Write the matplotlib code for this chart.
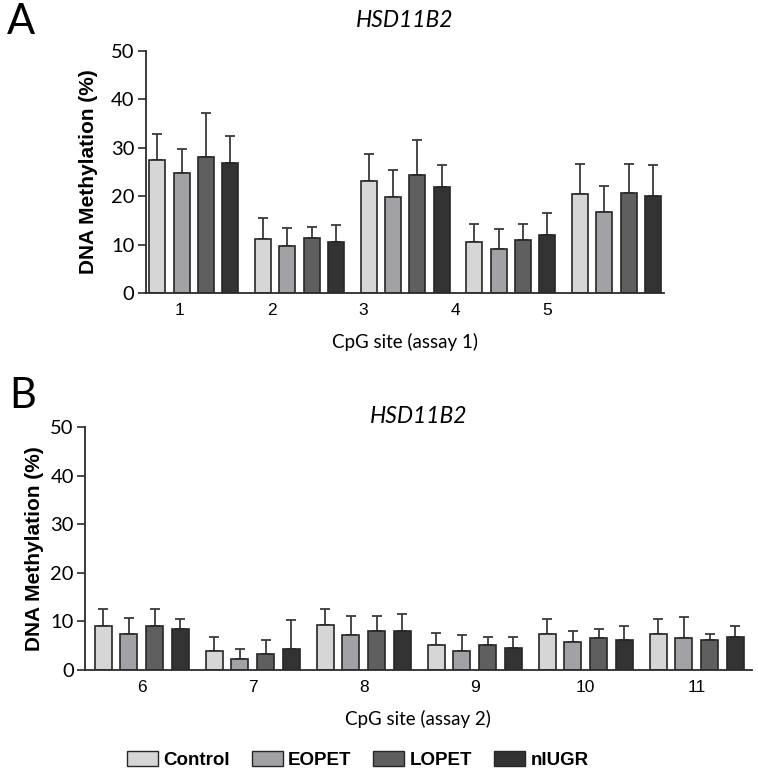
import matplotlib
matplotlib.use("Agg")
import matplotlib.pyplot as plt
import numpy as np
from matplotlib.patches import Patch

groups = ["Control", "EOPET", "LOPET", "nIUGR"]
colors = ["#d6d6d6", "#a2a2a6", "#5f5f5f", "#333333"]

sites_a = ["1", "2", "3", "4", "5"]
mean_a = {
    "Control": [27.5, 11.2, 23.2, 10.6, 20.5],
    "EOPET":   [24.7, 9.7, 19.8, 9.2, 16.8],
    "LOPET":   [28.2, 11.3, 24.4, 10.9, 20.6],
    "nIUGR":   [26.9, 10.6, 22.0, 12.1, 20.1],
}
sd_a = {
    "Control": [5.3, 4.3, 5.6, 3.7, 6.1],
    "EOPET":   [5.0, 3.7, 5.6, 4.1, 5.4],
    "LOPET":   [9.0, 2.4, 7.3, 3.4, 6.1],
    "nIUGR":   [5.6, 3.4, 4.4, 4.5, 6.3],
}

sites_b = ["6", "7", "8", "9", "10", "11"]
mean_b = {
    "Control": [9.1, 3.9, 9.3, 5.2, 7.4, 7.4],
    "EOPET":   [7.4, 2.3, 7.3, 4.0, 5.8, 6.6],
    "LOPET":   [9.1, 3.2, 8.1, 5.1, 6.6, 6.2],
    "nIUGR":   [8.4, 4.4, 8.1, 4.6, 6.2, 6.7],
}
sd_b = {
    "Control": [3.5, 2.8, 3.3, 2.5, 3.2, 3.2],
    "EOPET":   [3.3, 2.0, 3.8, 3.3, 2.2, 4.4],
    "LOPET":   [3.5, 2.9, 3.0, 1.7, 1.8, 1.3],
    "nIUGR":   [2.2, 5.8, 3.4, 2.1, 2.8, 2.4],
}

yticks = [0, 10, 20, 30, 40, 50]

W, H = 758, 777
fig = plt.figure(figsize=(W / 100, H / 100), dpi=100)

SPINE = "#2b2b2b"
CAL = ["Lato", "DejaVu Sans"]
ARI = ["Liberation Sans", "DejaVu Sans"]


def panel(rect, sites, means, sds, spacing, width, xlim, tickpos, xlabel,
          title_pad):
    ax = fig.add_axes(rect)
    x = np.arange(len(sites))
    for i, g in enumerate(groups):
        pos = x + (i - 1.5) * spacing
        m = np.array(means[g])
        s = np.array(sds[g])
        ax.bar(pos, m, width=width, color=colors[i], edgecolor="#262626",
               linewidth=1.2, zorder=2)
        ax.errorbar(pos, m, yerr=[np.zeros_like(s), s], fmt="none",
                    ecolor="#3a3a3a", elinewidth=1.3, capsize=3.6,
                    capthick=1.3, zorder=1)
    ax.set_ylim(0, 50)
    ax.set_xlim(*xlim)
    ax.set_yticks(yticks)
    ax.set_yticklabels([str(v) for v in yticks], fontfamily=CAL, fontsize=14.5)
    ax.set_xticks(tickpos)
    ax.set_xticklabels(sites, fontfamily=ARI, fontsize=12.5)
    ax.tick_params(axis="x", length=0, pad=7)
    ax.tick_params(axis="y", length=6, width=1.2, color=SPINE, pad=2)
    for sp in ["top", "right"]:
        ax.spines[sp].set_visible(False)
    for sp in ["left", "bottom"]:
        ax.spines[sp].set_color(SPINE)
        ax.spines[sp].set_linewidth(1.3)
    ax.set_xlabel(xlabel, fontfamily=CAL, fontsize=13.5, labelpad=11)
    ax.set_ylabel("DNA Methylation (%)", fontfamily=ARI, fontweight="bold",
                  fontsize=15, labelpad=8)
    ax.set_title("HSD11B2", fontfamily=CAL, fontstyle="italic", fontsize=16.5,
                 pad=title_pad)
    return ax


# Panel A
axA = panel([0.1922, 0.6225, 0.8764 - 0.1922, 0.9347 - 0.6225],
            sites_a, mean_a, sd_a, 0.23, 0.151, (-0.454, 4.452),
            -0.13 + 0.868 * np.arange(len(sites_a)), "CpG site (assay 1)", 17)
axA.yaxis.set_label_coords(-0.092, 0.5)

# Panel B
axB = panel([0.1121, 0.1377, 0.9917 - 0.1121, 0.4501 - 0.1377],
            sites_b, mean_b, sd_b, 0.2315, 0.153, (-0.511, 5.495),
            np.arange(len(sites_b)), "CpG site (assay 2)", -2)
axB.yaxis.set_label_coords(-0.062, 0.5)

fig.text(7 / W, 1 - 22 / H, "A", fontfamily=CAL, fontsize=30, va="center",
         ha="left")
fig.text(9 / W, 1 - 396 / H, "B", fontfamily=CAL, fontsize=30, va="center",
         ha="left")

handles = [Patch(facecolor=c, edgecolor="#262626", linewidth=1.0) for c in colors]
leg = fig.legend(handles, groups, loc="center", bbox_to_anchor=(0.472, 1 - 760 / H),
                 ncol=4, frameon=False, handlelength=1.65, handleheight=0.8,
                 handletextpad=0.3, columnspacing=1.15,
                 prop={"family": ARI, "weight": "bold", "size": 13.5})

fig.savefig("out.png", dpi=100)
